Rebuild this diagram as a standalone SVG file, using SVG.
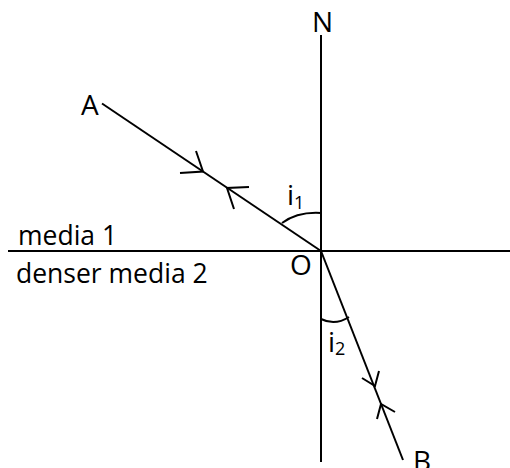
<svg xmlns="http://www.w3.org/2000/svg" width="510" height="468" viewBox="0 0 510 468">
<style>
.ln{stroke:#000;stroke-width:2;fill:none;stroke-linecap:butt}
.ah{stroke:#000;stroke-width:2;fill:none;stroke-linejoin:miter}
.lb{font-family:"Open Sans","Liberation Sans",sans-serif;fill:#000}
.big{font-size:28px}
.med{font-size:26.5px}
.sub{font-size:18px}
</style>
<rect width="510" height="468" fill="#fff"/>
<g id="connectors">
<line class="ln" x1="321" y1="35" x2="321" y2="462"/>
<line class="ln" x1="8" y1="251" x2="510" y2="251"/>
<line class="ln" x1="102" y1="103.5" x2="321" y2="251"/>
<line class="ln" x1="321" y1="251" x2="403" y2="460"/>
<path class="ah" d="M196,151 L203,171.5 L180,173"/>
<path class="ah" d="M234,209 L227,188 L249,187"/>
<path class="ah" d="M379,371 L375,386 L362,378"/>
<path class="ah" d="M377,419 L381,404 L395,412"/>
<path class="ln" d="M282,223 C293,215 305,212 321,213"/>
<path class="ln" d="M321,319 Q335,326 349,317"/>
</g>
<g id="label-A"><text class="lb big" x="81" y="115">A</text></g>
<g id="label-N"><text class="lb big" x="312" y="32">N</text></g>
<g id="label-O"><text class="lb big" x="290" y="275">O</text></g>
<g id="label-B"><text class="lb big" x="413" y="471">B</text></g>
<g id="label-i1"><text class="lb big" x="287" y="205">i<tspan class="sub" dy="4">1</tspan></text></g>
<g id="label-i2"><text class="lb big" x="328" y="352">i<tspan class="sub" dy="3">2</tspan></text></g>
<g id="label-media1"><text class="lb med" x="18" y="245">media 1</text></g>
<g id="label-media2"><text class="lb med" x="16" y="283">denser media 2</text></g>
</svg>
